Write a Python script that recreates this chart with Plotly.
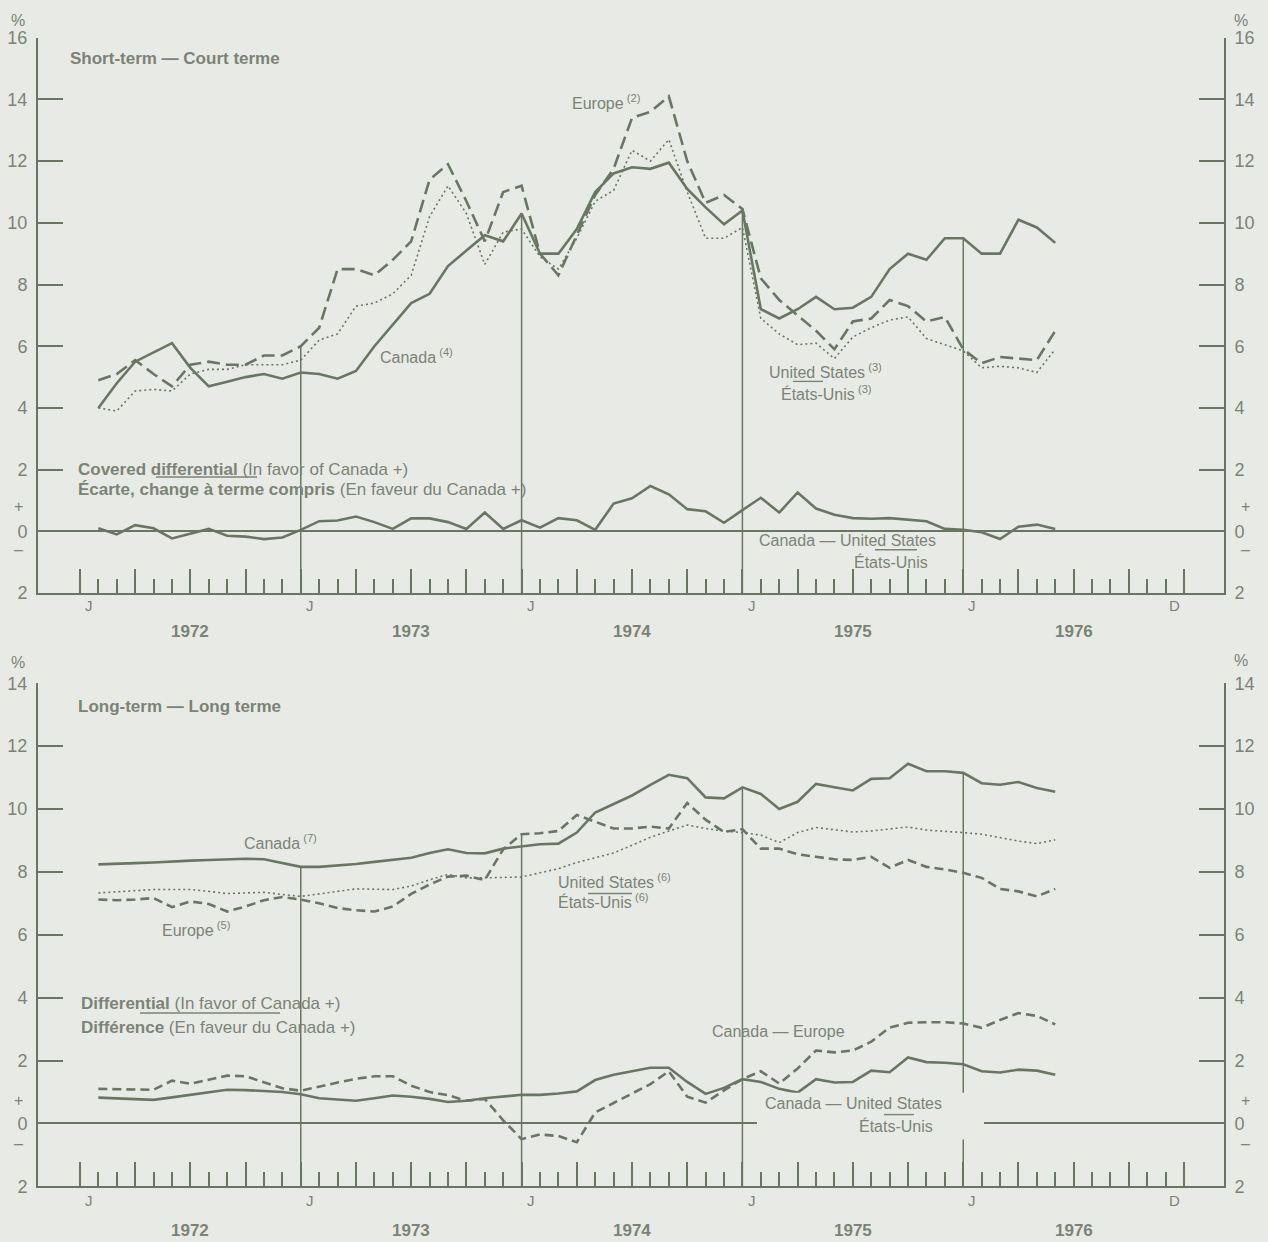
import plotly.graph_objects as go

# month index: 0 = start of Jan 1972, one unit per month; points sit at month ends
months = list(range(1, 54))

# Short-term rates (%)
ca_short = [4.0, 4.8, 5.5, 5.8, 6.1, 5.3, 4.7, 4.85, 5.0, 5.1, 4.95, 5.15, 5.1, 4.95, 5.2, 6.0, 6.7, 7.4,
            7.7, 8.6, 9.1, 9.6, 9.4, 10.3, 9.0, 9.0, 9.8, 11.0, 11.6, 11.8, 11.75, 11.95, 11.1, 10.5, 9.95, 10.4,
            7.2, 6.9, 7.2, 7.6, 7.2, 7.25, 7.6, 8.5, 9.0, 8.8, 9.5, 9.5, 9.0, 9.0, 10.1, 9.85, 9.35]
eu_short = [4.9, 5.1, 5.55, 5.1, 4.7, 5.4, 5.5, 5.4, 5.4, 5.7, 5.7, 6.0, 6.6, 8.5, 8.5, 8.3, 8.8, 9.4,
            11.4, 11.9, 10.7, 9.4, 11.0, 11.2, 9.0, 8.3, 9.6, 10.9, 11.75, 13.4, 13.6, 14.1, 12.0, 10.65, 10.9, 10.45,
            8.2, 7.5, 7.0, 6.5, 5.9, 6.8, 6.9, 7.5, 7.3, 6.8, 6.95, 5.9, 5.45, 5.65, 5.6, 5.55, 6.5]
us_short = [4.0, 3.9, 4.55, 4.6, 4.55, 5.1, 5.25, 5.25, 5.4, 5.4, 5.4, 5.55, 6.2, 6.4, 7.3, 7.4, 7.7, 8.3,
            10.2, 11.2, 10.3, 8.65, 9.7, 9.8, 8.9, 8.5, 9.5, 10.7, 11.05, 12.35, 12.0, 12.7, 11.0, 9.5, 9.5, 9.85,
            6.9, 6.4, 6.05, 6.1, 5.6, 6.3, 6.6, 6.85, 6.95, 6.25, 6.05, 5.85, 5.3, 5.35, 5.3, 5.15, 5.9]
covered_diff = [0.1, -0.1, 0.2, 0.1, -0.23, -0.07, 0.08, -0.14, -0.17, -0.25, -0.2, 0.05, 0.33, 0.35, 0.48,
                0.3, 0.08, 0.42, 0.42, 0.3, 0.08, 0.61, 0.08, 0.36, 0.12, 0.43, 0.36, 0.05, 0.9, 1.07, 1.47,
                1.2, 0.72, 0.65, 0.28, 0.69, 1.09, 0.61, 1.26, 0.74, 0.54, 0.43, 0.41, 0.43, 0.38, 0.33, 0.08,
                0.05, -0.03, -0.25, 0.15, 0.22, 0.08]

# Long-term rates (%)
ca_long = [8.24, 8.25, 8.28, 8.3, 8.34, 8.36, 8.38, 8.4, 8.42, 8.4, 8.28, 8.16, 8.16, 8.2, 8.25, 8.32, 8.38,
           8.45, 8.6, 8.72, 8.6, 8.59, 8.74, 8.8, 8.88, 8.9, 9.25, 9.89, 10.16, 10.43, 10.77, 11.09, 10.98,
           10.37, 10.34, 10.69, 10.48, 10.0, 10.23, 10.8, 10.69, 10.59, 10.96, 10.98, 11.44, 11.2, 11.2, 11.15,
           10.82, 10.77, 10.86, 10.67, 10.55]
eu_long = [7.12, 7.1, 7.12, 7.17, 6.88, 7.06, 6.98, 6.74, 6.9, 7.1, 7.2, 7.12, 7.0, 6.85, 6.78, 6.74, 6.9,
           7.3, 7.6, 7.85, 7.88, 7.74, 8.72, 9.2, 9.23, 9.3, 9.81, 9.6, 9.38, 9.38, 9.44, 9.38, 10.19, 9.66,
           9.27, 9.36, 8.74, 8.74, 8.56, 8.48, 8.4, 8.38, 8.48, 8.13, 8.38, 8.16, 8.08, 7.97, 7.81, 7.46, 7.38,
           7.22, 7.46]
us_long = [7.33, 7.36, 7.4, 7.44, 7.44, 7.44, 7.38, 7.31, 7.33, 7.35, 7.28, 7.22, 7.3, 7.38, 7.46, 7.45,
           7.44, 7.55, 7.75, 7.92, 7.81, 7.81, 7.82, 7.84, 7.97, 8.1, 8.3, 8.45, 8.6, 8.85, 9.1, 9.3, 9.49,
           9.38, 9.3, 9.25, 9.17, 8.93, 9.25, 9.41, 9.33, 9.27, 9.3, 9.36, 9.43, 9.33, 9.3, 9.25, 9.2, 9.09,
           8.98, 8.9, 9.02]
ca_eu_diff = [1.1, 1.1, 1.08, 1.07, 1.36, 1.26, 1.4, 1.52, 1.5, 1.3, 1.12, 1.04, 1.18, 1.3, 1.42, 1.5, 1.5,
              1.2, 1.0, 0.9, 0.72, 0.78, 0.1, -0.5, -0.35, -0.4, -0.6, 0.35, 0.65, 0.95, 1.25, 1.66, 0.85,
              0.66, 1.05, 1.41, 1.66, 1.27, 1.75, 2.32, 2.26, 2.32, 2.6, 3.05, 3.2, 3.22, 3.22, 3.18, 3.04,
              3.29, 3.51, 3.42, 3.15]
ca_us_diff = [0.82, 0.8, 0.78, 0.75, 0.83, 0.91, 1.0, 1.07, 1.06, 1.04, 1.0, 0.93, 0.8, 0.76, 0.72, 0.8,
              0.89, 0.85, 0.78, 0.68, 0.72, 0.8, 0.86, 0.91, 0.91, 0.95, 1.02, 1.38, 1.55, 1.65, 1.77, 1.77,
              1.32, 0.94, 1.13, 1.41, 1.32, 1.1, 0.98, 1.41, 1.3, 1.32, 1.68, 1.63, 2.1, 1.95, 1.93, 1.88,
              1.66, 1.62, 1.71, 1.68, 1.55]

year_labels = ['1972', '1973', '1974', '1975', '1976']
january_marks = [12, 24, 36, 48]

# colours of the scanned page
BG = '#e8ebe5'
INK = '#6a7664'
TXT = '#7b8377'
FONT = 'Liberation Sans'
W, H = 1268, 1242


def Y(t):
    # the page comes out slightly squeezed vertically, so aim a little wider
    return (t - 7.2) / 0.98764


def px(x, y):
    return x / W, 1 - Y(y) / H


fig = go.Figure()

solid = dict(color=INK, width=2.6)
dashed = dict(color=INK, width=2.6, dash='13px,6px')
dashed_short = dict(color=INK, width=2.6, dash='9px,5px')
dotted = dict(color=INK, width=1.6, dash='2px,3px')

# vertical January lines, up to the top of the main series in each panel
for m in january_marks:
    i = months.index(m)
    top_s = max(ca_short[i], eu_short[i] if m == 12 else ca_short[i], us_short[i])
    top_l = max(ca_long[i], eu_long[i], us_long[i])
    fig.add_trace(go.Scatter(x=[m, m], y=[-2, top_s], mode='lines', line=dict(color=INK, width=1.5),
                             xaxis='x', yaxis='y', hoverinfo='skip'))
    fig.add_trace(go.Scatter(x=[m, m], y=[-2, top_l], mode='lines', line=dict(color=INK, width=1.5),
                             xaxis='x2', yaxis='y2', hoverinfo='skip'))

# short-term panel
fig.add_trace(go.Scatter(x=months, y=us_short, mode='lines', line=dotted, name='United States', xaxis='x', yaxis='y'))
fig.add_trace(go.Scatter(x=months, y=eu_short, mode='lines', line=dashed, name='Europe', xaxis='x', yaxis='y'))
fig.add_trace(go.Scatter(x=months, y=ca_short, mode='lines', line=solid, name='Canada', xaxis='x', yaxis='y'))
fig.add_trace(go.Scatter(x=months, y=covered_diff, mode='lines', line=solid, name='Covered differential',
                         xaxis='x', yaxis='y'))

# long-term panel
fig.add_trace(go.Scatter(x=months, y=us_long, mode='lines', line=dotted, name='United States', xaxis='x2', yaxis='y2'))
fig.add_trace(go.Scatter(x=months, y=eu_long, mode='lines', line=dashed_short, name='Europe', xaxis='x2', yaxis='y2'))
fig.add_trace(go.Scatter(x=months, y=ca_long, mode='lines', line=solid, name='Canada', xaxis='x2', yaxis='y2'))
fig.add_trace(go.Scatter(x=months, y=ca_eu_diff, mode='lines', line=dashed_short, name='Canada - Europe',
                         xaxis='x2', yaxis='y2'))
fig.add_trace(go.Scatter(x=months, y=ca_us_diff, mode='lines', line=solid, name='Canada - United States',
                         xaxis='x2', yaxis='y2'))

# invisible traces so the right-hand axes are drawn
fig.add_trace(go.Scatter(x=[None], y=[None], xaxis='x', yaxis='y3', showlegend=False))
fig.add_trace(go.Scatter(x=[None], y=[None], xaxis='x2', yaxis='y4', showlegend=False))

x_dom = [38 / W, 1224 / W]
x_range = [-2.28, 62.17]
major_ticks = list(range(0, 61, 3))
minor_ticks = [m for m in range(1, 60) if m % 3]

xaxis_style = dict(domain=x_dom, range=x_range, showline=True, linecolor=INK, linewidth=2,
                   ticks='inside', tickmode='array', tickvals=major_ticks, ticklen=24, tickwidth=1.6,
                   tickcolor=INK, showticklabels=False, showgrid=False, zeroline=False,
                   minor=dict(tickmode='array', tickvals=minor_ticks, ticks='inside', ticklen=14,
                              tickwidth=1.6, tickcolor=INK, showgrid=False))

tick_font = dict(family=FONT, size=18, color=TXT)


def y_style(rng, domain, side, overlay=None):
    vals = list(range(rng[0], rng[1] + 1, 2))
    text = [str(abs(v)) for v in vals]
    d = dict(domain=domain, range=rng, side=side, showline=True, linecolor=INK, linewidth=2,
             ticks='inside', tickvals=vals, ticktext=text, ticklen=25, tickwidth=1.6, tickcolor=INK,
             tickfont=tick_font, showgrid=False, zeroline=overlay is None, zerolinecolor=INK,
             zerolinewidth=2.2, ticklabelstandoff=5)
    if overlay:
        d['overlaying'] = overlay
    return d


top_dom = [1 - Y(592.5) / H, 1 - Y(35) / H]
bot_dom = [1 - Y(1188) / H, 1 - Y(683) / H]

fig.update_layout(
    width=W, height=H,
    margin=dict(l=0, r=0, t=0, b=0),
    paper_bgcolor=BG, plot_bgcolor=BG,
    showlegend=False,
    xaxis=dict(anchor='y', **xaxis_style),
    xaxis2=dict(anchor='y2', **xaxis_style),
    yaxis=dict(anchor='x', **y_style([-2, 16], top_dom, 'left')),
    yaxis3=dict(anchor='x', **y_style([-2, 16], top_dom, 'right', 'y')),
    yaxis2=dict(anchor='x2', **y_style([-2, 14], bot_dom, 'left')),
    yaxis4=dict(anchor='x2', **y_style([-2, 14], bot_dom, 'right', 'y2')),
    font=dict(family=FONT, color=TXT),
)

notes = []


def note(x, y, text, size=17, anchor='left', **kw):
    xp, yp = px(x, y)
    notes.append(dict(x=xp, y=yp, xref='paper', yref='paper', text=text, showarrow=False,
                      xanchor=anchor, yanchor='middle', font=dict(family=FONT, size=size, color=TXT), **kw))


def axis_note(m, y, text, xaxis, size=16):
    notes.append(dict(x=m, y=1 - Y(y) / H, xref=xaxis, yref='paper', text=text, showarrow=False,
                      xanchor='center', yanchor='middle', font=dict(family=FONT, size=size, color=TXT)))


# top panel texts
note(18, 18, '%', anchor='center', size=16)
note(1241, 18, '%', anchor='center', size=16)
note(68, 56, '<b>Short-term — Court terme</b>', size=17)
note(570, 100, 'Europe<sup> (2)</sup>', size=16)
note(378, 355, 'Canada<sup> (4)</sup>', size=16)
note(767, 370, 'United States<sup> (3)</sup>', size=16)
note(779, 392, 'États-Unis<sup> (3)</sup>', size=16)
note(76, 468, '<b>Covered differential</b> (In favor of Canada +)')
note(76, 489, '<b>Écarte, change à terme compris</b> (En faveur du Canada +)')
note(757, 540, 'Canada — United States', size=16)
note(852, 561, 'États-Unis', size=16)
for xx in (18, 1245):
    note(xx, 506, '+', anchor='center', size=16)
    note(xx, 549, '–', anchor='center', size=16)

# bottom panel texts
note(18, 662, '%', anchor='center', size=16)
note(1241, 660, '%', anchor='center', size=16)
note(76, 706, '<b>Long-term — Long terme</b>', size=17)
note(242, 842, 'Canada<sup> (7)</sup>', size=16)
note(160, 930, 'Europe<sup> (5)</sup>', size=16)
note(556, 882, 'United States<sup> (6)</sup>', size=16)
note(556, 902, 'États-Unis<sup> (6)</sup>', size=16)
note(79, 1004, '<b>Differential</b> (In favor of Canada +)')
note(79, 1029, '<b>Différence</b> (En faveur du Canada +)')
note(710, 1033, 'Canada — Europe', size=16)
note(763, 1105, 'Canada — United States', size=16)
note(857, 1127, 'États-Unis', size=16)
for xx in (18, 1245):
    note(xx, 1102, '+', anchor='center', size=16)
    note(xx, 1145, '–', anchor='center', size=16)

# month and year labels under each panel
for xa, y_month, y_year in (('x', 605, 631), ('x2', 1202, 1232)):
    for k, yr in enumerate(year_labels):
        axis_note(12 * k + 0.5, y_month, 'J', xa, size=15)
        axis_note(12 * k + 6, y_year, '<b>%s</b>' % yr, xa, size=17)
    axis_note(59.5, y_month, 'D', xa, size=15)

fig.update_layout(annotations=notes)

# gap in the bottom zero line behind the Canada - United States label, plus underlines
shapes = []
x0, y1 = px(757, 1094)
x1, y0 = px(984, 1141)
shapes.append(dict(type='rect', xref='paper', yref='paper', x0=x0, x1=x1, y0=y0, y1=y1,
                   fillcolor=BG, line=dict(width=0), layer='above'))
for (a, b, yy) in ((156, 257, 476), (793, 823, 380), (875, 917, 549), (588, 632, 894), (140, 280, 1014),
                   (884, 914, 1116)):
    xa, ya = px(a, yy)
    xb, _ = px(b, yy)
    shapes.append(dict(type='line', xref='paper', yref='paper', x0=xa, x1=xb, y0=ya, y1=ya,
                       line=dict(color=TXT, width=1.4), layer='above'))
fig.update_layout(shapes=shapes)

# drop the browser's default page margin so the figure fills the window exactly
fig.write_html("out.html", config={'displayModeBar': False},
               post_script="document.body.style.margin='0';document.body.style.overflow='hidden';")
